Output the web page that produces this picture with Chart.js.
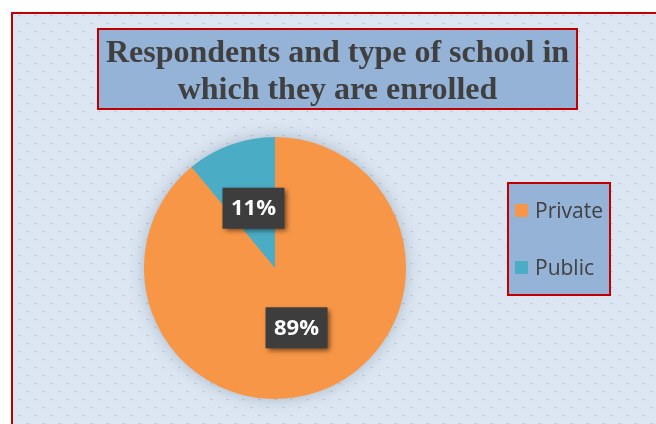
<!DOCTYPE html>
<html>
<head>
<meta charset="utf-8">
<script src="https://cdn.jsdelivr.net/npm/chart.js@4/dist/chart.umd.min.js"></script>
<style>
  html, body { margin: 0; padding: 0; background: #ffffff; }
  #wrap { width: 656px; height: 424px; }
</style>
</head>
<body>
<div id="wrap"><canvas id="chart" width="656" height="424"></canvas></div>
<script>
// School type of respondents
const titleLines = ['Respondents and type of school in', 'which they are enrolled'];
const categories = ['Private', 'Public'];
const shares = [89, 11];
const sliceColors = ['#f79646', '#4bacc6'];

const RED = '#c00000';
const INK = '#404040';

// Light blue dotted panel with a red frame
const backdrop = {
  id: 'backdrop',
  beforeDraw(chart) {
    const ctx = chart.ctx;
    const W = chart.width, H = chart.height;
    ctx.save();
    ctx.fillStyle = '#ffffff';
    ctx.fillRect(0, 0, W, H);
    ctx.fillStyle = '#dce6f2';
    ctx.fillRect(11, 12, W - 11, H - 12);
    ctx.fillStyle = 'rgba(150,160,178,0.6)';
    let row = 0;
    for (let y = 15; y < H; y += 8, row++) {
      const off = (row % 2) ? 8 : 0;
      for (let x = 19 + off; x < W; x += 16) {
        ctx.beginPath();
        ctx.arc(x + 0.5, y + 0.5, 0.85, 0, Math.PI * 2);
        ctx.fill();
      }
    }
    ctx.strokeStyle = RED;
    ctx.lineWidth = 2;
    ctx.beginPath();
    ctx.moveTo(W + 5, 13);
    ctx.lineTo(12, 13);
    ctx.lineTo(12, H + 5);
    ctx.stroke();
    ctx.restore();
  }
};

// Soft halo behind the pie
const pieHalo = {
  id: 'pieHalo',
  beforeDatasetsDraw(chart) {
    const arc = chart.getDatasetMeta(0).data[0];
    if (!arc) return;
    const ctx = chart.ctx;
    ctx.save();
    ctx.shadowColor = 'rgba(60,80,110,0.35)';
    ctx.shadowBlur = 16;
    ctx.fillStyle = '#f79646';
    ctx.beginPath();
    ctx.arc(arc.x, arc.y, arc.outerRadius - 1, 0, Math.PI * 2);
    ctx.fill();
    ctx.restore();
  }
};

// Percentage tags on each slice
const sliceLabels = {
  id: 'sliceLabels',
  afterDatasetsDraw(chart) {
    const ctx = chart.ctx;
    const meta = chart.getDatasetMeta(0);
    const values = chart.data.datasets[0].data;
    meta.data.forEach((arc, i) => {
      const mid = (arc.startAngle + arc.endAngle) / 2;
      const r = arc.outerRadius * 0.485;
      const cx = arc.x + Math.cos(mid) * r;
      const cy = arc.y + Math.sin(mid) * r;
      const w = 62, h = 41;
      ctx.save();
      ctx.shadowColor = 'rgba(0,0,0,0.55)';
      ctx.shadowBlur = 5;
      ctx.shadowOffsetX = 2.5;
      ctx.shadowOffsetY = 2.5;
      ctx.fillStyle = '#3d3d3d';
      ctx.fillRect(cx - w / 2, cy - h / 2, w, h);
      ctx.restore();
      ctx.save();
      ctx.fillStyle = '#ffffff';
      ctx.font = 'bold 22px "Open Sans", sans-serif';
      ctx.textAlign = 'center';
      ctx.textBaseline = 'middle';
      ctx.fillText(values[i] + '%', cx, cy + 1);
      ctx.restore();
    });
  }
};

// Boxed title and boxed legend
const boxes = {
  id: 'boxes',
  afterDraw(chart) {
    const ctx = chart.ctx;
    ctx.save();
    // title
    ctx.fillStyle = '#95b3d7';
    ctx.fillRect(97, 28, 481, 82);
    ctx.strokeStyle = RED;
    ctx.lineWidth = 2;
    ctx.strokeRect(98, 29, 479, 80);
    ctx.fillStyle = INK;
    ctx.font = 'bold 32px "Liberation Serif", "Times New Roman", serif';
    ctx.textAlign = 'center';
    ctx.textBaseline = 'alphabetic';
    ctx.fillText(titleLines[0], 337.5, 62);
    ctx.fillText(titleLines[1], 337.5, 99);

    // legend
    ctx.fillStyle = '#95b3d7';
    ctx.fillRect(507, 182, 104, 114);
    ctx.strokeStyle = RED;
    ctx.strokeRect(508, 183, 102, 112);
    const labels = chart.data.labels;
    const colors = chart.data.datasets[0].backgroundColor;
    ctx.font = '21px "Open Sans", sans-serif';
    ctx.textAlign = 'left';
    labels.forEach((lab, i) => {
      const top = 204 + i * 57;
      ctx.fillStyle = colors[i];
      ctx.fillRect(515, top, 13, 13);
      ctx.fillStyle = INK;
      ctx.fillText(lab, 535, top + 13.5);
    });
    ctx.restore();
  }
};

new Chart(document.getElementById('chart'), {
  type: 'pie',
  data: {
    labels: categories,
    datasets: [{
      data: shares,
      backgroundColor: sliceColors,
      borderWidth: 0
    }]
  },
  options: {
    responsive: false,
    animation: false,
    layout: { padding: { left: 144, right: 250, top: 137, bottom: 25 } },
    plugins: {
      legend: { display: false },
      tooltip: { enabled: false },
      title: { display: false }
    }
  },
  plugins: [backdrop, pieHalo, sliceLabels, boxes]
});
</script>
</body>
</html>
